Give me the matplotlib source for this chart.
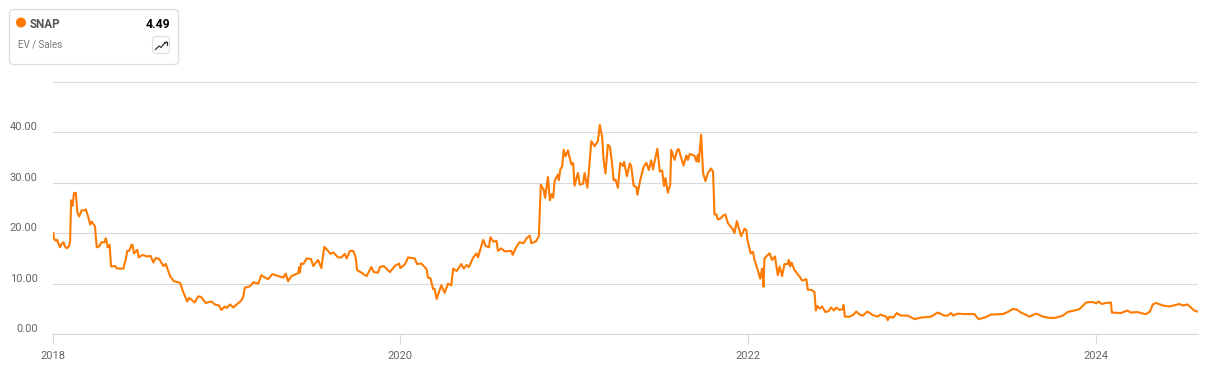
import pandas as pd
import matplotlib.pyplot as plt
import matplotlib.dates as mdates
from matplotlib.patches import Circle, FancyBboxPatch

plt.rcParams["font.family"] = ["Roboto", "DejaVu Sans"]

# Data: days since 2018-01-01 and EV / Sales
days = [
    1, 2, 6, 9, 11, 15, 18, 22, 25, 29, 34, 36, 38, 41, 44, 48, 51, 55, 60, 65, 69, 74, 78, 81, 88, 92, 97, 102,
    108, 111, 115, 119, 122, 130, 135, 148, 153, 156, 160, 165, 167, 170, 177, 180, 188, 197, 205, 211, 216, 223,
    232, 237, 246, 254, 267, 274, 282, 286, 298, 305, 311, 321, 333, 340, 349, 354, 361, 365, 372, 379, 386, 396,
    400, 403, 414, 421, 431, 438, 442, 452, 461, 484, 489, 494, 501, 515, 518,
    519, 521, 526, 533, 542, 547, 557, 564, 570, 578, 583, 589, 599, 606, 613, 617, 624, 631, 636, 639, 648, 659,
    669, 674, 683, 687, 695, 708, 718, 727, 730, 740, 746, 760, 765, 774, 785, 788, 793, 799, 802, 806, 816, 823,
    830, 837, 841, 848, 858, 863, 869, 874, 883, 890, 893, 904, 909, 916, 919, 926, 932, 935, 942, 949, 963, 966,
    973, 980, 989, 995, 1002, 1005, 1015, 1020,
    1021, 1025, 1031, 1034, 1040, 1044, 1048, 1051, 1054, 1061, 1063, 1066, 1070, 1073, 1077, 1082, 1089, 1093,
    1096, 1103, 1107, 1114, 1117, 1123, 1128, 1131, 1138, 1145, 1149, 1154, 1157, 1161, 1166, 1170, 1174, 1178,
    1182, 1187, 1192, 1198, 1200, 1206, 1212, 1215, 1220, 1226, 1228, 1234, 1241, 1247, 1252, 1257, 1261, 1264,
    1270, 1275, 1280, 1284, 1287, 1292, 1297, 1299, 1306, 1312, 1315, 1320, 1325, 1331, 1334, 1338, 1348, 1352,
    1355, 1357, 1362, 1366, 1371, 1376, 1383, 1387, 1390, 1394, 1397, 1404, 1408, 1413, 1418, 1429, 1432, 1437,
    1446, 1453, 1457, 1459,
    1466, 1471, 1474, 1481, 1486, 1490, 1493, 1495, 1502, 1506, 1511, 1517, 1523, 1527, 1532, 1537, 1544, 1546,
    1549, 1552, 1558, 1569, 1574, 1583, 1586, 1593, 1600, 1603, 1606, 1611, 1616, 1623, 1630, 1635, 1641, 1646,
    1653, 1660, 1661, 1664, 1674, 1681, 1688, 1695, 1702, 1711, 1723, 1733, 1738, 1751, 1754, 1758,
    1766, 1773, 1782, 1796, 1810, 1824, 1845, 1859, 1873, 1880, 1887, 1892, 1901, 1912, 1936, 1945, 1957, 1971,
    1996, 2006, 2017, 2025, 2034, 2052, 2066, 2080, 2097, 2108, 2122, 2132, 2146, 2157, 2171, 2185, 2192, 2197,
    2204, 2213, 2223, 2225, 2244, 2257, 2265, 2279, 2290, 2297, 2305, 2311, 2318, 2332, 2346, 2367, 2374, 2384,
    2398, 2405,
]
ev_sales = [
    20.0, 18.9, 18.5, 18.7, 18.0, 17.2, 17.9, 18.2, 17.4, 17.0, 17.5, 18.5, 26.5, 25.4, 27.9, 28.0, 24.2, 23.3,
    24.5, 24.5, 24.7, 23.2, 21.7, 22.3, 21.4, 17.2, 17.4, 18.2,
    18.2, 19.0, 17.2, 17.7, 13.4, 13.5, 13.0, 13.0, 14.9, 16.5, 16.5, 17.7, 17.7, 16.0, 16.7, 15.2, 15.7, 15.4,
    15.5, 14.2, 15.1, 14.9,
    13.5, 13.9, 11.5, 10.5, 10.2, 8.3, 6.5, 7.2, 6.3, 7.5, 7.4, 6.2, 6.5, 5.9, 5.7, 4.8, 5.5, 5.2, 5.9, 5.3, 5.9,
    6.7,
    7.5, 9.2, 9.5, 10.3, 10.0, 11.7, 11.4, 10.9, 11.9, 11.2, 12.0, 10.5, 11.5, 12.1, 13.3,
    12.2, 14.0, 13.9, 15.0, 14.9, 13.5, 14.7, 13.1, 17.3, 16.5, 15.9, 16.2, 15.2, 15.2, 15.9, 15.0, 16.5, 16.5,
    15.2, 12.7, 12.2, 11.5,
    13.3, 12.3, 12.2, 13.3, 13.5, 12.3, 13.5, 14.0, 13.1, 13.9, 15.2, 15.0, 13.9, 14.0, 12.9, 11.2, 11.1, 8.9, 9.0,
    7.0, 9.7, 8.2,
    10.0, 9.7, 13.0, 12.5, 13.9, 13.0, 13.7, 13.3, 15.2, 16.0, 15.2, 18.7, 17.5, 17.2, 19.2, 18.3, 18.5, 16.5, 17.0,
    16.4, 16.5, 15.7,
    17.2, 18.2, 18.0, 19.0, 19.5, 18.0, 18.4, 19.2,
    19.4, 29.6, 28.6, 27.0, 31.1, 26.5, 27.7, 27.0, 30.3, 31.6, 30.5, 32.6, 33.2, 36.5, 35.2, 36.4, 33.6, 33.9,
    29.4, 31.9, 29.6, 29.8, 31.9, 29.0, 34.5, 38.2, 37.2, 38.2, 41.4, 39.0, 34.5, 31.8, 37.5, 37.2, 34.5, 30.5,
    30.6, 29.0, 33.9, 33.3, 34.1, 31.3, 33.8, 33.3, 29.4, 29.1, 27.6, 30.5, 33.1, 33.9, 32.5, 34.4, 32.6, 34.1,
    36.7, 32.2, 32.4, 29.3, 30.9, 28.0, 29.6, 36.5, 34.5, 36.5, 36.6, 34.9, 33.4, 35.4, 34.5, 35.7, 35.3, 34.2,
    35.5, 34.1, 39.5, 31.9, 30.3, 31.9, 32.8, 32.1, 23.7, 23.7, 22.7, 23.0, 23.5, 23.7, 22.0, 20.7, 20.0, 22.4,
    19.4, 20.9, 20.6, 18.8,
    16.0, 16.3, 14.7, 12.7, 11.0, 13.0, 9.4, 15.0, 15.7, 16.0, 14.7, 15.4, 11.7, 13.4, 11.5, 13.9, 13.9, 14.7,
    13.4, 14.2, 12.7, 11.4, 10.6, 10.9, 8.8, 8.8, 8.4, 4.7, 5.6, 5.1, 5.5, 4.4, 4.6, 5.3, 4.7, 5.3,
    4.8, 5.0, 5.8, 3.5, 3.5, 3.8, 4.5, 3.9, 3.7, 4.5, 3.8, 3.5, 3.9, 3.5, 2.8, 3.5,
    3.3, 4.2, 3.7, 3.7, 3.0, 3.3, 3.5, 4.3, 3.7, 3.7, 4.2, 3.7, 4.1, 4.0, 4.0, 3.0, 3.3, 3.9,
    4.0, 4.4, 5.0, 4.9, 4.3, 3.5, 4.1, 3.5, 3.2, 3.3, 3.7, 4.4, 4.7, 5.0, 6.3, 6.4, 6.1, 6.5,
    6.0, 6.2, 6.3, 4.3, 4.2, 4.7, 4.3, 4.4, 4.1, 4.0, 4.5, 5.9, 6.2, 5.7, 5.5, 6.0, 5.7, 5.9,
    4.7, 4.5,
]
y_ticks = [0, 10, 20, 30, 40, 50]
y_labels = ["0.00", "10.00", "20.00", "30.00", "40.00", ""]
year_ticks = ["2018-01-01", "2020-01-01", "2022-01-01", "2024-01-01"]
year_labels = ["2018", "2020", "2022", "2024"]

ticker_name = "SNAP"
metric_name = "EV / Sales"
last_value = "4.49"

ORANGE = "#ff7a00"
GRID = "#d9d9d9"

W, H = 1206, 369
fig = plt.figure(figsize=(W / 100, H / 100), dpi=100)

# Chart
ax = fig.add_axes([53 / W, (H - 334.3) / H, 1145 / W, 252.8 / H])
dates = pd.Timestamp("2018-01-01") + pd.to_timedelta(days, unit="D")
ax.plot(dates, ev_sales, color=ORANGE, lw=1.5, solid_joinstyle="round", zorder=3)

ax.set_xlim(pd.Timestamp("2018-01-01"), pd.Timestamp("2018-01-01") + pd.Timedelta(days=2406))
ax.set_ylim(0, 50)
ax.set_yticks(y_ticks, y_labels, va="bottom")
ax.set_xticks(pd.to_datetime(year_ticks), year_labels)
ax.xaxis.set_major_locator(mdates.YearLocator(2))
ax.xaxis.set_major_formatter(mdates.DateFormatter("%Y"))
ax.grid(True, axis="y", color=GRID, lw=0.8)
ax.tick_params(axis="y", length=0, pad=11, labelsize=8, labelcolor="#666666")
ax.tick_params(axis="x", length=7.2, width=0.8, color=GRID, pad=4.5, labelsize=8, labelcolor="#666666")
for side in ["top", "right", "left"]:
    ax.spines[side].set_visible(False)
ax.spines["bottom"].set_color(GRID)
ax.spines["bottom"].set_linewidth(0.8)
ax.patch.set_alpha(0)

# Legend card, laid out in pixels
card = fig.add_axes([0, 0, 1, 1], zorder=5)
card.set_xlim(0, W)
card.set_ylim(H, 0)
card.axis("off")
card.add_patch(FancyBboxPatch((9.5, 9.5), 169, 55, boxstyle="round,pad=0,rounding_size=4",
                              fc="white", ec="#dddddd", lw=0.9))
card.add_patch(Circle((21, 22.5), 5, fc=ORANGE, ec="none"))
card.text(30, 22.5, ticker_name, fontsize=8.4, fontweight="bold", color="#555555", va="center_baseline")
card.text(170, 22.5, last_value, fontsize=8.8, fontweight="bold", color="black", ha="right", va="center_baseline")
card.text(18, 44, metric_name, fontsize=7, color="#777777", va="center_baseline")
card.add_patch(FancyBboxPatch((152.5, 36.5), 17, 17, boxstyle="round,pad=0,rounding_size=4",
                              fc="white", ec="#dddddd", lw=0.8))
card.plot([155.5, 159, 161, 163.5, 166.5], [49.5, 46, 47.5, 44.5, 42], color="#333333", lw=0.9)
card.plot([163.5, 166.5, 166.5], [42, 42, 45], color="#333333", lw=0.9)

fig.savefig("out.png", dpi=100)
